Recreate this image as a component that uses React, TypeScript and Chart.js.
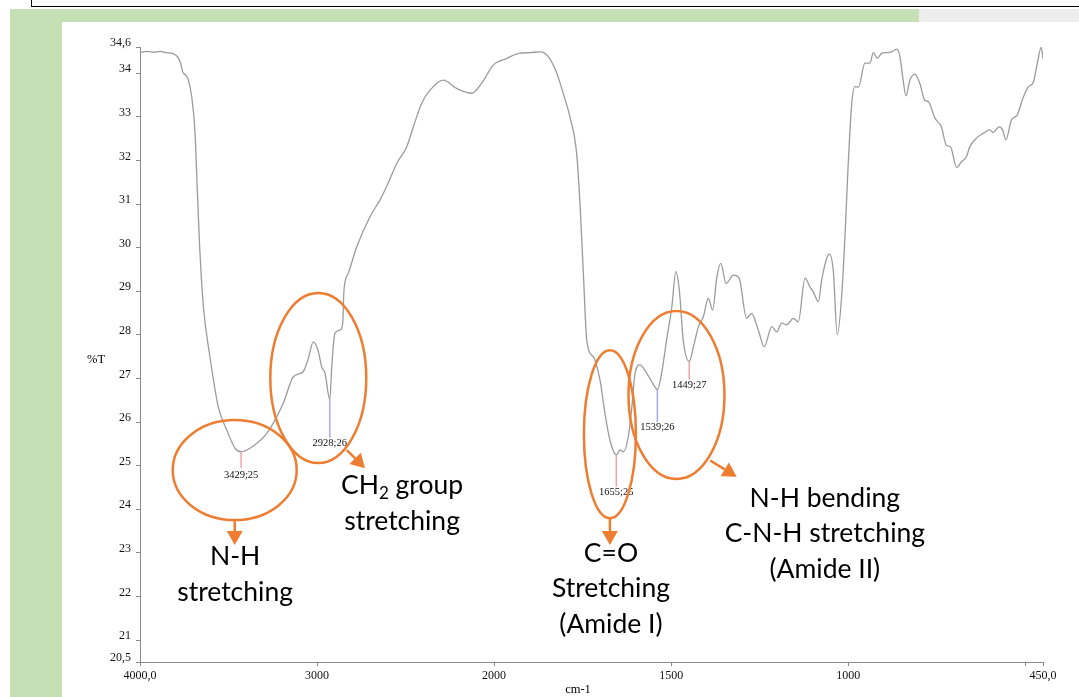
import React, { useEffect, useRef } from 'react';
import { Chart, registerables, LinearScale } from 'chart.js';

Chart.register(...registerables);

// ---------- data ----------
const wavenumbers = [
  4000, 3960, 3920, 3887, 3850, 3812, 3785, 3770, 3759, 3740, 3727, 3708, 3689, 3680, 3665, 3642, 3605, 3558, 3510, 3463,
  3429, 3379, 3284, 3191, 3134, 3078, 3050, 3021, 2995, 2974, 2955, 2928, 2917, 2899, 2870, 2855, 2848, 2824, 2776, 2701,
  2645, 2607, 2550, 2494, 2456, 2409, 2362, 2287, 2211, 2127, 2070, 2004, 1964, 1927, 1900, 1870, 1847, 1823, 1805, 1786,
  1767, 1757, 1748, 1738, 1720, 1715, 1701, 1687, 1673, 1655, 1644, 1635, 1621, 1611, 1602, 1588, 1569, 1546, 1539, 1527,
  1513, 1498, 1487, 1477, 1466, 1449, 1437, 1423, 1409, 1395, 1383, 1371, 1360, 1345, 1324, 1308, 1287, 1273, 1254, 1237,
  1216, 1202, 1188, 1174, 1155, 1141, 1122, 1108, 1099, 1084, 1075, 1053, 1042, 1031, 1018, 1009, 1000, 990, 981, 971,
  953, 939, 929, 918, 905, 891, 877, 863, 854, 845, 837, 826, 812, 798, 784, 774, 755, 737, 723, 711,
  694, 680, 666, 657, 638, 619, 600, 591, 574, 564, 555, 539, 523, 507, 491, 477, 466, 455, 450,
];
const transmittance = [
  34.47, 34.5, 34.48, 34.5, 34.47, 34.45, 34.36, 34.22, 34.03, 33.95, 33.84, 33.46, 32.63, 31.71, 30.18, 28.65, 27.5, 26.35, 25.82, 25.4,
  25.32, 25.4, 25.74, 26.43, 27.04, 27.16, 27.45, 27.84, 27.65, 27.27, 27.12, 26.51, 27.27, 28.04, 28.11, 28.27, 29.03, 29.41, 30.02, 30.71,
  31.09, 31.4, 31.93, 32.31, 32.77, 33.31, 33.61, 33.84, 33.65, 33.54, 33.77, 34.19, 34.34, 34.46, 34.47, 34.49, 34.38, 34.0, 33.54, 33.0,
  32.16, 30.94, 29.41, 27.85, 27.5, 27.42, 26.97, 26.2, 25.59, 25.25, 25.36, 25.32, 25.67, 26.35, 27.12, 27.31, 27.12, 26.81, 26.74, 27.12,
  27.88, 28.65, 29.45, 29.03, 27.88, 27.39, 27.73, 28.19, 28.42, 28.84, 28.57, 29.33, 29.64, 29.18, 29.37, 29.3, 28.38, 28.49, 28.11, 27.73,
  28.19, 28.07, 28.27, 28.23, 28.38, 28.3, 29.3, 29.1, 28.99, 28.76, 29.26, 29.85, 29.45, 28.0, 28.95, 30.3, 31.93, 33.31, 33.69, 33.68,
  34.23, 34.23, 34.47, 34.34, 34.46, 34.47, 34.49, 34.55, 34.38, 33.84, 33.48, 33.84, 33.98, 33.77, 33.38, 33.35, 32.97, 32.77, 32.35, 32.31,
  31.84, 31.97, 32.09, 32.31, 32.51, 32.62, 32.7, 32.64, 32.77, 32.7, 32.47, 32.93, 33.04, 33.42, 33.69, 33.8, 34.23, 34.59, 34.34,
];

const peakWavenumbers = [3429, 2928, 1655, 1539, 1449];
const peakTransmittance = [25.32, 26.51, 25.25, 26.74, 27.39];

const xTickValues = [4000, 3000, 2000, 1500, 1000, 500, 450];
const xTickLabels = ['4000,0', '3000', '2000', '1500', '1000', '', '450,0'];
const yTickValues = [20.5, 21, 22, 23, 24, 25, 26, 27, 28, 29, 30, 31, 32, 33, 34, 34.6];
const yTickLabels = ['20,5', '21', '22', '23', '24', '25', '26', '27', '28', '29', '30', '31', '32', '33', '34', '34,6'];

const xTitle = 'cm-1';
const yTitle = '%T';

// ---------- styling / annotation geometry ----------
const AXIS = '#8a8a8a';
const ORANGE = '#ED7D31';
const TICK_FONT = 'Liberation Serif';
const NOTE_FONT = 'Lato';
const NOTE_SIZE = 26.5;

const peakStyles = [
  { color: '#f3a3a3', len: 16, labelDy: 23 },
  { color: '#a9a9f5', len: 38, labelDy: 43 },
  { color: '#f3a3a3', len: 32, labelDy: 37 },
  { color: '#a9a9f5', len: 32, labelDy: 37 },
  { color: '#f3a3a3', len: 18, labelDy: 24 },
];

const callouts = [
  { ellipse: [3465, 24.9, 62, 50], arrow: [[3465, 23.76], [3465, 23.18]], text: [3463, 22.91], lines: ['N-H', 'stretching'] },
  { ellipse: [2993, 27.01, 48, 85], arrow: [[2832, 25.36], [2729, 24.94]], text: [2520, 24.54], lines: ['CH_2 group', 'stretching'] },
  { ellipse: [1673, 25.72, 26, 84], arrow: [[1673, 23.79], [1673, 23.18]], text: [1670, 23.0], lines: ['C=O', 'Stretching', '(Amide I)'] },
  { ellipse: [1485, 26.62, 48, 84], arrow: [[1390, 25.12], [1315, 24.75]], text: [1066, 24.26], lines: ['N-H bending', 'C-N-H stretching', '(Amide II)'] },
];

// ---------- FTIR x scale: 2x expansion below 2000 cm-1 ----------
const XMAX = 4000;
const XMIN = 450;
const BREAK = 2000;
const SPAN = XMAX - BREAK + 2 * (BREAK - XMIN);

class FtirScale extends LinearScale {
  static id = 'ftir';
  getPixelForValue(value: number) {
    const d = value >= BREAK ? (XMAX - value) / SPAN : (XMAX - BREAK + 2 * (BREAK - value)) / SPAN;
    return this.getPixelForDecimal(d);
  }
  getValueForPixel(pixel: number) {
    const d = this.getDecimalForPixel(pixel) * SPAN;
    const b = XMAX - BREAK;
    return d <= b ? XMAX - d : BREAK - (d - b) / 2;
  }
}
Chart.register(FtirScale as any);

function drawArrow(ctx: CanvasRenderingContext2D, x1: number, y1: number, x2: number, y2: number) {
  const ang = Math.atan2(y2 - y1, x2 - x1);
  const hl = 14;
  const hw = 8;
  const bx = x2 - hl * Math.cos(ang);
  const by = y2 - hl * Math.sin(ang);
  ctx.beginPath();
  ctx.moveTo(x1, y1);
  ctx.lineTo(bx, by);
  ctx.stroke();
  ctx.beginPath();
  ctx.moveTo(x2, y2);
  ctx.lineTo(bx + hw * Math.sin(ang), by - hw * Math.cos(ang));
  ctx.lineTo(bx - hw * Math.sin(ang), by + hw * Math.cos(ang));
  ctx.closePath();
  ctx.fill();
}

function drawNoteLine(ctx: CanvasRenderingContext2D, line: string, cx: number, cy: number, size: number) {
  if (line.indexOf('_') < 0) {
    ctx.textAlign = 'center';
    ctx.fillText(line, cx, cy);
    return;
  }
  // simple subscript support: "CH_2 group"
  const m = line.match(/^(.*?)_(\S)(.*)$/);
  if (!m) return;
  const [, a, sub, b] = m;
  const big = `${size}px ${NOTE_FONT}`;
  const small = `${Math.round(size * 0.65)}px ${NOTE_FONT}`;
  ctx.font = big;
  const wa = ctx.measureText(a).width;
  const wb = ctx.measureText(b).width;
  ctx.font = small;
  const ws = ctx.measureText(sub).width;
  let x = cx - (wa + ws + wb) / 2;
  ctx.textAlign = 'left';
  ctx.font = big;
  ctx.fillText(a, x, cy);
  x += wa;
  ctx.font = small;
  ctx.fillText(sub, x, cy + size * 0.3);
  x += ws;
  ctx.font = big;
  ctx.fillText(b, x, cy);
}

const annotationPlugin = {
  id: 'ftirAnnotations',
  afterDatasetsDraw(chart: any) {
    const ctx: CanvasRenderingContext2D = chart.ctx;
    const xs = chart.scales.x;
    const ys = chart.scales.y;
    const area = chart.chartArea;
    ctx.save();

    // peak markers + labels
    ctx.font = `10.5px ${TICK_FONT}`;
    ctx.textAlign = 'center';
    ctx.textBaseline = 'middle';
    peakWavenumbers.forEach((w, i) => {
      const st = peakStyles[i];
      const px = xs.getPixelForValue(w);
      const py = ys.getPixelForValue(peakTransmittance[i]);
      ctx.strokeStyle = st.color;
      ctx.lineWidth = 1.5;
      ctx.beginPath();
      ctx.moveTo(px, py);
      ctx.lineTo(px, py + st.len);
      ctx.stroke();
      ctx.fillStyle = '#111';
      ctx.fillText(`${w};${Math.floor(peakTransmittance[i])}`, px, py + st.labelDy);
    });

    // callouts: ellipses, arrows, text
    ctx.strokeStyle = ORANGE;
    ctx.fillStyle = ORANGE;
    ctx.lineWidth = 2.5;
    callouts.forEach((c) => {
      const [ew, et, rx, ry] = c.ellipse;
      ctx.beginPath();
      ctx.ellipse(xs.getPixelForValue(ew), ys.getPixelForValue(et), rx, ry, 0, 0, Math.PI * 2);
      ctx.stroke();
      const [[aw1, at1], [aw2, at2]] = c.arrow;
      drawArrow(ctx, xs.getPixelForValue(aw1), ys.getPixelForValue(at1), xs.getPixelForValue(aw2), ys.getPixelForValue(at2));
    });

    ctx.fillStyle = '#000';
    ctx.textBaseline = 'middle';
    callouts.forEach((c) => {
      const cx = xs.getPixelForValue(c.text[0]);
      const cy = ys.getPixelForValue(c.text[1]);
      c.lines.forEach((line, i) => {
        ctx.font = `${NOTE_SIZE}px ${NOTE_FONT}`;
        drawNoteLine(ctx, line, cx, cy + i * 35.5, NOTE_SIZE);
      });
    });

    // axis titles
    ctx.font = `12.5px ${TICK_FONT}`;
    ctx.textAlign = 'center';
    ctx.fillStyle = '#000';
    ctx.fillText(yTitle, area.left - 44, ys.getPixelForValue(27.42));
    ctx.fillText(xTitle, area.left + 438, area.bottom + 28);
    ctx.restore();
  },
};

export default function App() {
  const canvasRef = useRef<HTMLCanvasElement | null>(null);

  useEffect(() => {
    const canvas = canvasRef.current;
    if (!canvas) return;
    const points = wavenumbers.map((w, i) => ({ x: w, y: transmittance[i] }));
    const chart = new Chart(canvas, {
      type: 'line',
      data: {
        datasets: [
          {
            data: points,
            borderColor: '#9b9b9b',
            borderWidth: 1.3,
            pointRadius: 0,
            fill: false,
            cubicInterpolationMode: 'monotone',
          },
        ],
      },
      options: {
        responsive: false,
        maintainAspectRatio: false,
        animation: false,
        devicePixelRatio: 1,
        layout: { padding: { top: 47, right: 36, left: 0, bottom: 0 } },
        plugins: { legend: { display: false }, tooltip: { enabled: false }, title: { display: false } },
        scales: {
          x: {
            type: 'ftir' as any,
            min: XMIN,
            max: XMAX,
            afterBuildTicks: (s: any) => {
              s.ticks = xTickValues.map((v) => ({ value: v }));
            },
            afterFit: (s: any) => {
              s.height = 35;
            },
            grid: { drawOnChartArea: false, drawTicks: true, tickLength: 4, color: AXIS },
            border: { display: true, color: AXIS, width: 1 },
            ticks: {
              autoSkip: false,
              maxRotation: 0,
              padding: 3,
              color: '#111',
              font: { family: TICK_FONT, size: 12 },
              callback: (_v: any, i: number) => xTickLabels[i],
            },
          },
          y: {
            type: 'linear',
            min: 20.5,
            max: 34.6,
            afterBuildTicks: (s: any) => {
              s.ticks = yTickValues.map((v) => ({ value: v }));
            },
            afterFit: (s: any) => {
              s.width = 140;
            },
            grid: { drawOnChartArea: false, drawTicks: true, tickLength: 4, color: AXIS },
            border: { display: true, color: AXIS, width: 1 },
            ticks: {
              autoSkip: false,
              padding: 5,
              labelOffset: -4,
              color: '#111',
              font: { family: TICK_FONT, size: 12 },
              callback: (_v: any, i: number) => yTickLabels[i],
            },
          },
        },
      },
      plugins: [annotationPlugin],
    });
    return () => chart.destroy();
  }, []);

  return (
    <div style={{ position: 'fixed', left: 0, top: 0, width: 1079, height: 697, background: '#fff', overflow: 'hidden' }}>
      <div style={{ position: 'absolute', left: 31, top: -2, width: 1060, height: 8, borderLeft: '1px solid #000', borderBottom: '1px solid #000', background: '#fbfbfb' }} />
      <div style={{ position: 'absolute', left: 10, top: 9, width: 909, height: 13, background: '#C5E0B4' }} />
      <div style={{ position: 'absolute', left: 919, top: 9, width: 160, height: 13, background: '#ededed' }} />
      <div style={{ position: 'absolute', left: 10, top: 9, width: 52, height: 688, background: '#C5E0B4' }} />
      <canvas ref={canvasRef} width={1079} height={697} style={{ position: 'absolute', left: 0, top: 0 }} />
    </div>
  );
}
